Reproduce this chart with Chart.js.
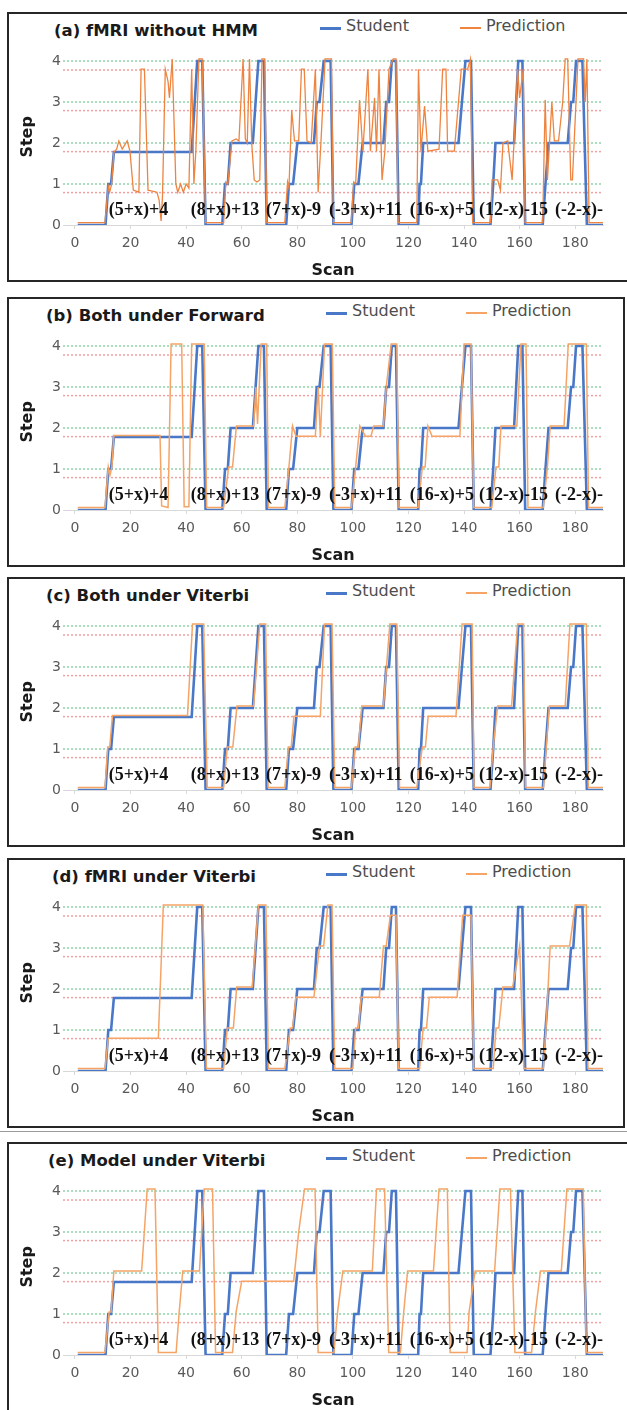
<!DOCTYPE html>
<html>
<head>
<meta charset="utf-8">
<script src="https://cdn.jsdelivr.net/npm/chart.js@4.4.0/dist/chart.umd.min.js"></script>
<style>
  body { margin: 0; background: #fff; width: 627px; height: 1410px; overflow: hidden; position: relative; font-family: "DejaVu Sans", Verdana, sans-serif; }
  .panel { position: absolute; left: 7px; height: 266px; border: 2px solid #262626; background: #fff; }
  .panel canvas { position: absolute; left: 0; top: 0; }
  .title { position: absolute; top: 7px; font-weight: bold; font-size: 16.5px; color: #1a1a1a; white-space: nowrap; }
  .key { position: absolute; top: 2px; font-size: 16px; color: #4d4d4d; white-space: nowrap; }
  .key i { position: absolute; left: 0; top: 11px; width: 21px; height: 2.5px; }
  .key span { position: absolute; left: 26px; top: 0; }
  .rule { position: absolute; left: 0; top: 1131px; width: 627px; height: 1px; background: #9a9a9a; }
</style>
</head>
<body>
<div class="rule"></div>
<script>
// axis ticks and reference levels
const xTicks = [0, 20, 40, 60, 80, 100, 120, 140, 160, 180];
const yTicks = [0, 1, 2, 3, 4];
const greenLevels = [1, 2, 3, 4];
const redLevels = [0.79, 1.79, 2.79, 3.78];

// problem labels written along the bottom of each plot
const problemLabels = ['(5+x)+4', '(8+x)+13', '(7+x)-9', '(-3+x)+11', '(16-x)+5', '(12-x)-15', '(-2-x)-'];
const problemLabelX = [12.2, 41.7, 68.7, 91.4, 120.5, 145.4, 172.7];

// student step per scan, [scan, step]
const student = [
  [1, 0], [11, 0], [12, 1], [13, 1], [14, 1.78], [42, 1.78], [44, 4], [45.8, 4], [47, 0],
  [53, 0], [54, 1], [55, 1], [56, 2], [64, 2], [66, 4], [68, 4], [69, 0],
  [76, 0], [77, 1], [78.5, 1], [80, 2], [86, 2], [87, 3], [88, 3], [89.5, 4], [92, 4], [93, 0],
  [99.5, 0], [100.5, 1], [102, 1], [103.5, 2], [111, 2], [112, 3], [113, 3], [114, 4], [115.5, 4], [116.5, 0],
  [123.5, 0], [124, 1], [124.5, 1], [125.3, 2], [138, 2], [140.5, 4], [142.5, 4], [143.5, 0],
  [149.5, 0], [150.5, 1], [151.3, 2], [158, 2], [159.5, 4], [161, 4], [162, 0],
  [168.3, 0], [169.3, 1], [170.4, 2], [177.3, 2], [178.5, 3], [179.3, 3], [180.3, 4], [182.6, 4], [184.2, 0], [190, 0]
];

// (a) fMRI without HMM
const predA = [
  [1, 0.06], [10.8, 0.06], [12, 0.95], [12.5, 0.8], [13.2, 1], [14, 1.78], [15, 1.85], [15.8, 2.05], [17, 1.85], [18.8, 2.05],
  [19.8, 1.8], [21, 0.85], [23, 0.8], [23.8, 3.8], [25, 3.8], [26.3, 0.85], [29.5, 0.8], [30.3, 0.6], [31, 0.1], [31.5, 0.7],
  [32.5, 3.8], [33.5, 3.5], [34, 3.1], [35, 4.05], [36.3, 1], [37, 0.8], [38, 1], [39, 0.8], [40, 1], [41, 0.9],
  [42, 3.8], [42.8, 1], [43.5, 1.8], [44.6, 4.05], [45.8, 4.05], [47, 0.06],
  [53.5, 0.06], [54.3, 1.05], [55, 1], [56.5, 2.05], [58, 2.1], [59, 2.05], [60.5, 4.05], [61.3, 2.1], [62, 2], [62.8, 4.05],
  [63.6, 2], [64.5, 1.1], [65.5, 1.05], [66.5, 1.1], [67.3, 4.05], [68.3, 4.05], [69, 0.06],
  [75.5, 0.06], [76.5, 1.05], [77, 0.9], [78, 2.8], [79, 2.05], [80.5, 2.05], [81.5, 3.8], [82.5, 3.8], [83.5, 2.05], [85, 2],
  [86.5, 3.8], [87.5, 0.8], [88.5, 2], [90, 4.05], [92.3, 4.05], [93, 0.06],
  [99.4, 0.06], [100.3, 1.05], [101, 1], [102.4, 3.05], [103.6, 1.8], [105.4, 3.8], [106.3, 1.8], [107.8, 3.1], [108.5, 1.8], [109.4, 3.8],
  [110.5, 1.1], [111.5, 1.8], [113, 3.8], [114.5, 4.05], [115.5, 4.05], [116.3, 0.06],
  [123, 0.06], [123.6, 3.8], [124.5, 1.8], [125.8, 2.9], [127, 1.8], [131, 1.85], [132.3, 3.8], [133.5, 3.8], [134.1, 1.8], [136.5, 1.8],
  [139, 3.8], [141.3, 3.8], [142.3, 4.05], [143.1, 0.06],
  [149.5, 0.06], [150.1, 1.1], [152.1, 1.1], [153.1, 0.85], [154, 2], [155.7, 2.05], [157.3, 1.1], [159.3, 3.8], [160, 3.1], [161.3, 3.8], [162, 0.06],
  [168.3, 0.06], [169.2, 3.05], [170, 1.1], [171.6, 3], [172.5, 2.05], [174, 2.05], [175.5, 3], [176.4, 4.05], [177.3, 4.05], [178.4, 1.1],
  [179, 1.1], [181, 4.05], [183, 4.05], [183.6, 3], [184.2, 4.05], [185, 0.06], [190, 0.06]
];

// (b) Both under Forward
const predB = [
  [1, 0.06], [10.8, 0.06], [12, 1.05], [12.6, 0.85], [13.3, 1.05], [14, 1.82], [30.6, 1.82], [31.2, 0.1], [33.5, 0.06], [34.6, 4.05],
  [38.4, 4.05], [39.3, 0.08], [41, 0.08], [42, 4.05], [46.5, 4.05], [47.4, 0.06],
  [53.5, 0.06], [55.3, 1.05], [56.7, 1.05], [58.1, 2.05], [64.3, 2.05], [65.1, 3], [65.7, 2.1], [67, 4.05], [69, 4.05], [69.6, 0.06],
  [75.5, 0.06], [77, 1.05], [78.3, 2.05], [79.5, 1.8], [86.5, 1.8], [87.5, 3], [88.3, 1.8], [89.8, 4.05], [92.6, 4.05], [93.5, 0.06],
  [99.5, 0.06], [101, 1.05], [102.5, 2.05], [104.5, 1.8], [106.5, 1.8], [107.5, 2.05], [111, 2.05], [112, 3], [113.8, 4.05], [115.8, 4.05], [116.6, 0.06],
  [123.5, 0.06], [125, 1.05], [126, 1.05], [127, 2.05], [128.5, 1.8], [138.5, 1.8], [140, 4.05], [142.5, 4.05], [143.5, 0.06],
  [150, 0.06], [151.5, 1.05], [152.5, 1.05], [153.3, 2.05], [159, 2.05], [160.5, 4.05], [162.3, 4.05], [163, 0.06],
  [168.5, 0.06], [170, 1.05], [171, 2.05], [176, 2.05], [177.5, 4.05], [184, 4.05], [184.8, 0.06], [190, 0.06]
];

// (c) Both under Viterbi
const predC = [
  [1, 0.06], [10.8, 0.06], [11.8, 1.05], [12.5, 1.05], [13.5, 1.82], [40.5, 1.82], [42.3, 4.05], [46.3, 4.05], [47.6, 0.06],
  [53.5, 0.06], [54.8, 1.05], [56.8, 1.05], [58.3, 2.05], [64.3, 2.05], [66.5, 4.05], [68.6, 4.05], [69.5, 0.06],
  [75.5, 0.06], [76.8, 1.05], [77.8, 1.05], [78.8, 1.8], [88.3, 1.8], [89.8, 4.05], [92.5, 4.05], [93.5, 0.06],
  [99.5, 0.06], [100.8, 1.05], [102, 1.05], [103.2, 2.05], [111, 2.05], [113.3, 4.05], [115.8, 4.05], [116.8, 0.06],
  [123, 0.06], [125, 1.05], [126.1, 1.05], [127.1, 1.8], [137.1, 1.8], [139.3, 4.05], [142.9, 4.05], [143.6, 0.06],
  [149.3, 0.06], [150.5, 1.05], [152.1, 2.05], [157.1, 2.05], [159.3, 4.05], [161.4, 4.05], [162.1, 0.06],
  [168.6, 0.06], [169.6, 1.05], [170.7, 2.05], [176.4, 2.05], [178.1, 4.05], [184, 4.05], [184.7, 0.06], [190, 0.06]
];

// (d) fMRI under Viterbi
const predD = [
  [1, 0.06], [10.8, 0.06], [12, 0.8], [30, 0.8], [31.8, 4.05], [46, 4.05], [47.3, 0.06],
  [53.5, 0.06], [54.8, 1.05], [57, 1.05], [58.2, 2.05], [63.8, 2.05], [66, 4.05], [68.7, 4.05], [69.6, 0.06],
  [75.5, 0.06], [77.5, 1.05], [78.3, 1.05], [79.5, 1.8], [86, 1.8], [88, 3.05], [89.5, 3.05], [91, 4.05], [92.5, 4.05], [93.5, 0.06],
  [100, 0.06], [101, 1.05], [102, 1.05], [103, 1.8], [109.5, 1.8], [111, 3.05], [112, 3.05], [113.5, 3.8], [115.5, 3.8], [116.5, 0.06],
  [124, 0.06], [125.3, 1.05], [126.5, 1.05], [127.5, 1.8], [137.5, 1.8], [139.5, 3.8], [142.5, 3.8], [143.5, 0.06],
  [150.5, 0.06], [151.5, 1.05], [152.5, 1.05], [154, 2.05], [157.5, 2.05], [160, 3.05], [161.5, 0.06],
  [168.5, 0.06], [169.5, 1.05], [171, 3.05], [178, 3.05], [180, 4.05], [184, 4.05], [184.6, 0.06], [190, 0.06]
];

// (e) Model under Viterbi
const predE = [
  [1, 0.06], [10.8, 0.06], [12.3, 1.05], [13, 1.05], [14, 2.05], [24, 2.05], [26, 4.05], [28.8, 4.05], [30, 0.06],
  [36.4, 0.06], [37.5, 1.05], [38.8, 2.05], [44.8, 2.05], [46.5, 4.05], [49.5, 4.05], [50.6, 0.06],
  [56.7, 0.06], [58, 1.05], [60, 1.8], [78.7, 1.8], [80.5, 3], [82.6, 4.05], [86.4, 4.05], [87.5, 0.06],
  [93.2, 0.06], [94.5, 1.05], [96.4, 2.05], [107, 2.05], [108.5, 4.05], [111.4, 4.05], [112.9, 0.06],
  [117.1, 0.06], [118.3, 1.05], [119.7, 2.05], [129, 2.05], [131, 4.05], [134, 4.05], [135, 0.06],
  [141.1, 0.06], [141.8, 1.05], [144, 2.05], [151, 2.05], [152.9, 4.05], [156.7, 4.05], [158.3, 0.06],
  [164.3, 0.06], [165.7, 1.05], [167.5, 2.05], [175, 2.05], [177, 4.05], [182.9, 4.05], [184, 0.06], [190, 0.06]
];

const panels = [
  { title: '(a) fMRI without HMM', pred: predA, top: 12, width: 630, titleLeft: 45, keyLeft: 311, orange: '#ee8440', orangeWidth: 1.3 },
  { title: '(b) Both under Forward', pred: predB, top: 297, width: 614, titleLeft: 37, keyLeft: 317, orange: '#f5a466', orangeWidth: 1.5 },
  { title: '(c) Both under Viterbi', pred: predC, top: 577, width: 614, titleLeft: 37, keyLeft: 317, orange: '#f5a466', orangeWidth: 1.5 },
  { title: '(d) fMRI under Viterbi', pred: predD, top: 858, width: 614, titleLeft: 43, keyLeft: 317, orange: '#f5a466', orangeWidth: 1.5 },
  { title: '(e) Model under Viterbi', pred: predE, top: 1142, width: 630, titleLeft: 39, keyLeft: 317, orange: '#f5a466', orangeWidth: 1.5 }
];

const X_MIN = -4.3, X_MAX = 190;
const BLUE = '#4a78c8';

// draws the problem labels inside the plot area
const problemLabelPlugin = {
  id: 'problemLabels',
  afterDatasetsDraw(chart) {
    const { ctx, scales: { x, y } } = chart;
    ctx.save();
    ctx.font = 'bold 18px "Liberation Serif", "Times New Roman", serif';
    ctx.fillStyle = '#111';
    ctx.textBaseline = 'middle';
    problemLabels.forEach((t, i) => {
      ctx.fillText(t, x.getPixelForValue(problemLabelX[i]), y.getPixelForValue(0.36));
    });
    ctx.restore();
  }
};

function levelLine(v, color) {
  return {
    data: [[X_MIN, v], [X_MAX, v]],
    borderColor: color,
    borderWidth: 1.5,
    borderDash: [2, 2],
    pointRadius: 0,
    order: 3
  };
}

panels.forEach(p => {
  const box = document.createElement('div');
  box.className = 'panel';
  box.style.top = p.top + 'px';
  box.style.width = p.width + 'px';
  box.innerHTML =
    '<div class="title" style="left:' + p.titleLeft + 'px">' + p.title + '</div>' +
    '<div class="key" style="left:' + p.keyLeft + 'px"><i style="background:' + BLUE + '"></i><span>Student</span></div>' +
    '<div class="key" style="left:' + (p.keyLeft + 140) + 'px"><i style="background:' + p.orange + ';height:1.5px"></i><span>Prediction</span></div>';
  const canvas = document.createElement('canvas');
  canvas.width = p.width;
  canvas.height = 266;
  box.appendChild(canvas);
  document.body.appendChild(box);

  const datasets = [
    { label: 'Prediction', data: p.pred, borderColor: p.orange, borderWidth: p.orangeWidth, pointRadius: 0, order: 0 },
    { label: 'Student', data: student, borderColor: BLUE, borderWidth: 2.6, pointRadius: 0, order: 1 }
  ];
  greenLevels.forEach(v => datasets.push(levelLine(v, '#8fd3a9')));
  redLevels.forEach(v => datasets.push(levelLine(v, '#f3a0a0')));

  new Chart(canvas, {
    type: 'line',
    data: { datasets },
    plugins: [problemLabelPlugin],
    options: {
      responsive: false,
      animation: false,
      devicePixelRatio: 1,
      layout: { padding: { left: 0, top: 211 - 4.3 * 41, right: p.width - 594, bottom: 0 } },
      plugins: { legend: { display: false }, tooltip: { enabled: false } },
      scales: {
        x: {
          type: 'linear',
          min: X_MIN,
          max: X_MAX,
          afterBuildTicks: axis => { axis.ticks = xTicks.map(v => ({ value: v })); },
          afterFit: scale => { scale.height = 55; },
          ticks: { color: '#595959', font: { family: '"DejaVu Sans", Verdana, sans-serif', size: 14 }, padding: 6, maxRotation: 0, autoSkip: false },
          grid: { drawOnChartArea: false, tickLength: 4, color: '#d9d9d9' },
          border: { color: '#d9d9d9' },
          title: { display: true, text: 'Scan', color: '#1a1a1a', font: { family: '"DejaVu Sans", Verdana, sans-serif', size: 16, weight: 'bold' }, padding: { top: 0, bottom: 0 } }
        },
        y: {
          min: 0,
          max: 4.3,
          afterBuildTicks: axis => { axis.ticks = yTicks.map(v => ({ value: v })); },
          afterFit: scale => { scale.width = 54; },
          ticks: { color: '#595959', font: { family: '"DejaVu Sans", Verdana, sans-serif', size: 14 }, padding: 2 },
          grid: { display: false, drawTicks: false },
          border: { display: false },
          title: { display: true, text: 'Step', color: '#1a1a1a', font: { family: '"DejaVu Sans", Verdana, sans-serif', size: 16, weight: 'bold' }, padding: { top: 9, bottom: 0 } }
        }
      }
    }
  });
});
</script>
</body>
</html>
